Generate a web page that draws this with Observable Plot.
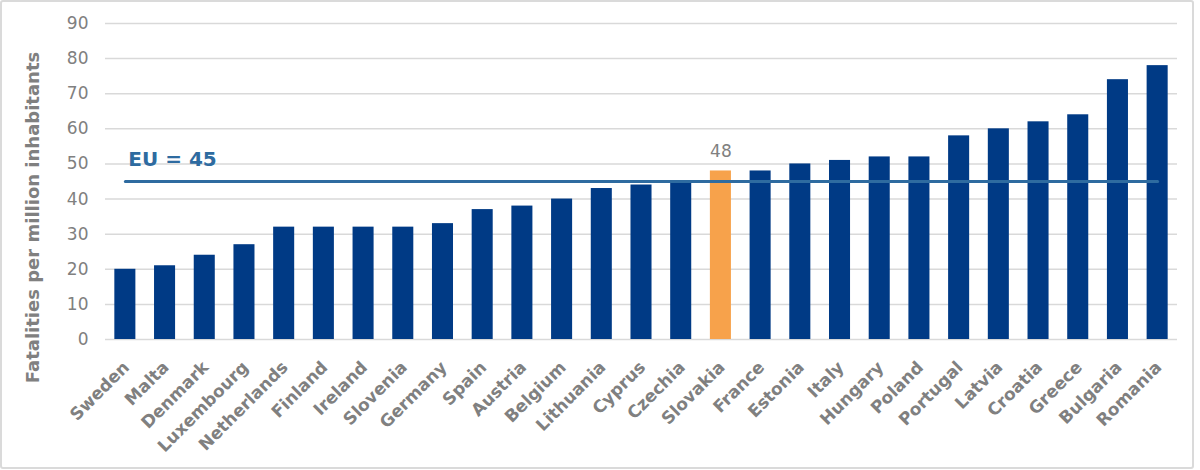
<!DOCTYPE html>
<html>
<head>
<meta charset="utf-8">
<script src="https://cdn.jsdelivr.net/npm/d3@7"></script>
<script src="https://cdn.jsdelivr.net/npm/@observablehq/plot@0.6"></script>
<style>
  html, body { margin: 0; padding: 0; background: #fff; }
  #wrap { position: relative; width: 1200px; height: 470px; }
  #border { position: absolute; left: 0; top: 0; width: 1194px; height: 469px; box-sizing: border-box;
            border: 2px solid #dadada; border-radius: 3px; pointer-events: none; }
</style>
</head>
<body>
<div id="wrap"><div id="chart"></div><div id="border"></div></div>
<script>
const countries = ["Sweden","Malta","Denmark","Luxembourg","Netherlands","Finland","Ireland","Slovenia","Germany","Spain","Austria","Belgium","Lithuania","Cyprus","Czechia","Slovakia","France","Estonia","Italy","Hungary","Poland","Portugal","Latvia","Croatia","Greece","Bulgaria","Romania"];
const fatalities = [20,21,24,27,32,32,32,32,33,37,38,40,43,44,45,48,48,50,51,52,52,58,60,62,64,74,78];
const highlighted = "Slovakia";
const euAverage = 45;
const euLabel = "EU = 45";
const yTicks = [0,10,20,30,40,50,60,70,80,90];
const yTitle = "Fatalities per million inhabitants";

const data = countries.map((c, i) => ({country: c, value: fatalities[i]}));
const euLine = [{country: countries[0], value: euAverage}, {country: countries[countries.length - 1], value: euAverage}];
const euText = [{country: countries[0], value: euAverage, label: euLabel}];
const hiData = data.filter(d => d.country === highlighted);

const font = "'DejaVu Sans', Verdana, sans-serif";
const grey = "#808080";

const chart = Plot.plot({
  width: 1200,
  height: 470,
  marginLeft: 105,
  marginRight: 23,
  marginTop: 23,
  marginBottom: 131,
  style: {fontFamily: font, background: "#fff", overflow: "visible"},
  x: {domain: countries, paddingInner: 0.47, paddingOuter: 0.235, round: false, label: null, axis: null},
  y: {domain: [0, 90], ticks: yTicks, label: null},
  marks: [
    Plot.gridY(yTicks, {stroke: "#d9d9d9", strokeOpacity: 1, strokeWidth: 1.5}),
    Plot.barY(data, {x: "country", y: "value", fill: d => d.country === highlighted ? "#F7A24B" : "#003A85"}),
    Plot.line(euLine, {x: "country", y: "value", stroke: "#2E6BA0", strokeWidth: 3}),
    Plot.text(euText, {x: "country", y: "value", text: "label", textAnchor: "start", dx: 3, dy: -22,
      fill: "#2E6BA0", fontWeight: "bold", fontSize: 20}),
    Plot.text(hiData, {x: "country", y: "value", text: d => String(d.value), dy: -19, fill: grey, fontSize: 17}),
    Plot.axisY(yTicks, {tickSize: 0, tickPadding: 17, fontSize: 17, fill: grey, label: null}),
    Plot.text(data, {x: "country", y: () => 0, text: "country", rotate: -45, textAnchor: "end", dx: 1, dy: 25,
      fontSize: 17, fontWeight: "bold", fill: grey}),
    Plot.text([yTitle], {frameAnchor: "left", rotate: -90, textAnchor: "middle", dx: -72, dy: 36, text: d => d,
      fontSize: 18, fontWeight: "bold", fill: grey})
  ]
});
document.getElementById("chart").appendChild(chart);
</script>
</body>
</html>
